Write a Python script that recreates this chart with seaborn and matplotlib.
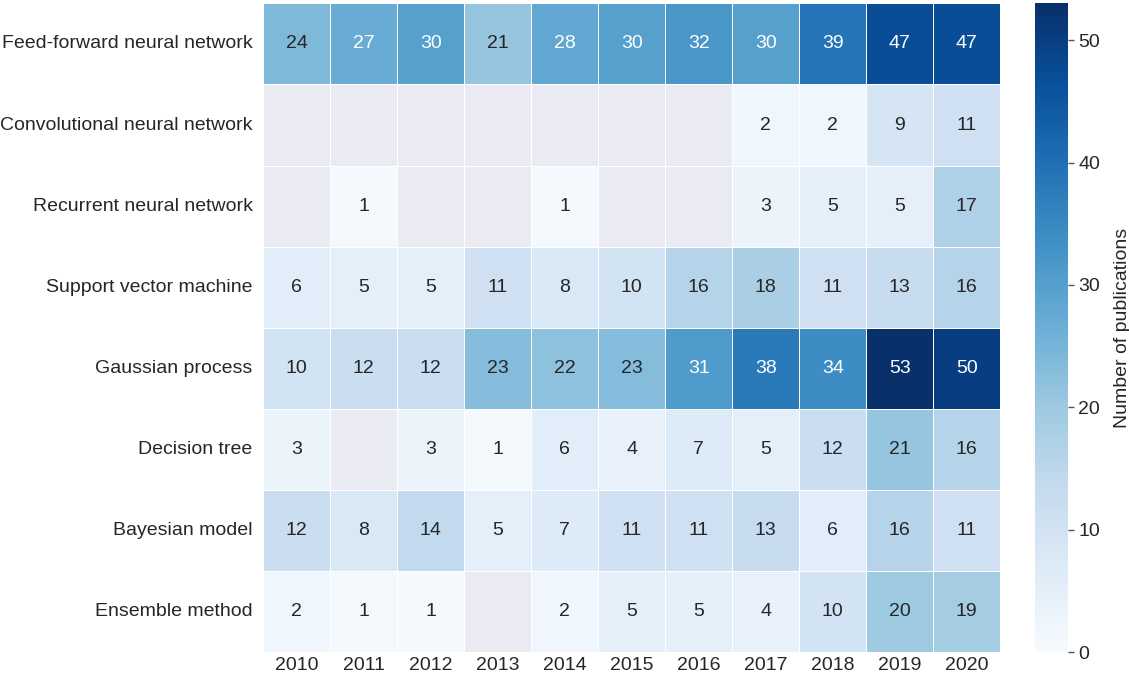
import numpy as np
import pandas as pd
import seaborn as sns
import matplotlib.pyplot as plt

years = [2010, 2011, 2012, 2013, 2014, 2015, 2016, 2017, 2018, 2019, 2020]
methods = ['Feed-forward neural network', 'Convolutional neural network',
           'Recurrent neural network', 'Support vector machine',
           'Gaussian process', 'Decision tree', 'Bayesian model', 'Ensemble method']

nan = np.nan
ffnn = [24, 27, 30, 21, 28, 30, 32, 30, 39, 47, 47]
cnn = [nan, nan, nan, nan, nan, nan, nan, 2, 2, 9, 11]
rnn = [nan, 1, nan, nan, 1, nan, nan, 3, 5, 5, 17]
svm = [6, 5, 5, 11, 8, 10, 16, 18, 11, 13, 16]
gp = [10, 12, 12, 23, 22, 23, 31, 38, 34, 53, 50]
dt = [3, nan, 3, 1, 6, 4, 7, 5, 12, 21, 16]
bm = [12, 8, 14, 5, 7, 11, 11, 13, 6, 16, 11]
em = [2, 1, 1, nan, 2, 5, 5, 4, 10, 20, 19]

df = pd.DataFrame([ffnn, cnn, rnn, svm, gp, dt, bm, em], index=methods, columns=years)

sns.set_theme(style='darkgrid')
plt.rcParams['font.family'] = ['Liberation Sans', 'DejaVu Sans']

fig = plt.figure(figsize=(11.29, 6.8), dpi=100)
ax = fig.add_axes([0.233, 0.041, 0.653, 0.954])
cax = fig.add_axes([0.917, 0.041, 0.029, 0.954])

sns.heatmap(df, ax=ax, cbar_ax=cax, cmap='Blues', vmin=0, vmax=53,
            annot=True, fmt='g', linewidths=0.6, linecolor='white',
            annot_kws={'fontsize': 14},
            cbar_kws={'label': 'Number of publications'})

ax.grid(False)
ax.set_facecolor('#EAEAF2')
ax.tick_params(axis='both', labelsize=14, length=0)
ax.tick_params(axis='y', pad=7.5)
ax.set_yticklabels(methods, rotation=0)
ax.set_xticklabels(years, rotation=0)
ax.set_xlabel('')
ax.set_ylabel('')

cax.tick_params(labelsize=14, length=4, width=1, color='#555555')
cax.set_ylabel('Number of publications', fontsize=14, labelpad=10)
cax.set_yticks([0, 10, 20, 30, 40, 50])

fig.savefig('out.png', dpi=100)
